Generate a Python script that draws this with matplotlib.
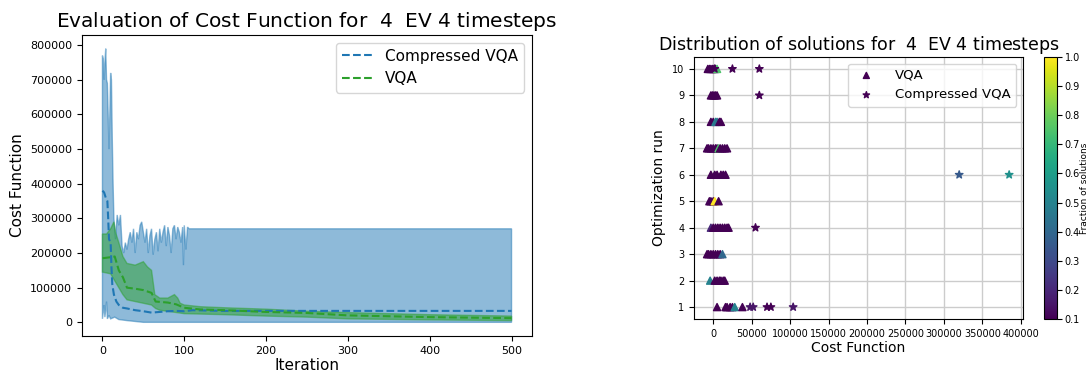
import numpy as np
import matplotlib.pyplot as plt

# ---- cost function traces (iteration -> value) ----
comp_max_it = [0, 1, 2, 3, 4, 5, 6, 7, 8, 9, 10, 11, 12, 13, 14, 16, 18, 20, 22, 24, 26, 28, 30,
               32, 34, 36, 38, 40, 42, 44, 46, 48, 50, 52, 54, 56, 58, 60, 62, 64, 66, 68, 70,
               72, 74, 76, 78, 80, 82, 84, 86, 88, 90, 92, 94, 96, 98, 99, 100, 102, 104, 106, 500]
comp_max = [770000, 760000, 700000, 750000, 790000, 700000, 690000, 600000, 500000, 600000,
            720000, 700000, 530000, 400000, 300000, 240000, 310000, 280000, 310000, 220000,
            200000, 230000, 210000, 240000, 260000, 230000, 270000, 200000, 260000, 240000,
            280000, 290000, 260000, 230000, 270000, 200000, 250000, 270000, 195000, 240000,
            260000, 205000, 270000, 230000, 260000, 280000, 220000, 275000, 250000, 200000,
            270000, 280000, 240000, 275000, 260000, 230000, 275000, 165000, 280000, 210000,
            275000, 270000, 270000]
comp_min_it = [0, 2, 3, 5, 6, 8, 10, 15, 20, 30, 50, 500]
comp_min = [10000, 50000, 15000, 60000, 10000, 20000, 10000, 15000, 8000, 5000, 0, 0]
comp_mean_it = [0, 2, 4, 6, 7, 8, 10, 11, 12, 14, 17, 20, 25, 30, 40, 50, 60, 70, 80, 90,
                100, 110, 150, 500]
comp_mean = [380000, 375000, 360000, 350000, 300000, 240000, 230000, 160000, 110000, 80000,
             60000, 50000, 42000, 40000, 35000, 32000, 28000, 30000, 32000, 33000, 32000,
             35000, 33000, 33000]

vqa_max_it = [0, 5, 10, 14, 16, 20, 25, 30, 40, 50, 55, 60, 64, 70, 80, 88, 92, 95, 100, 120,
              150, 200, 250, 300, 400, 500]
vqa_max = [255000, 255000, 270000, 290000, 260000, 230000, 190000, 170000, 165000, 175000,
           160000, 150000, 80000, 70000, 70000, 80000, 70000, 55000, 50000, 45000, 42000,
           38000, 32000, 28000, 22000, 18000]
vqa_min_it = [0, 10, 15, 20, 25, 30, 40, 50, 60, 65, 70, 100, 150, 200, 250, 300, 400, 500]
vqa_min = [145000, 140000, 120000, 100000, 80000, 65000, 60000, 55000, 50000, 40000, 35000,
           25000, 22000, 18000, 15000, 10000, 7000, 5000]
vqa_mean_it = [0, 10, 15, 20, 25, 30, 40, 50, 60, 65, 80, 90, 100, 120, 150, 200, 250, 300,
               400, 500]
vqa_mean = [185000, 188000, 190000, 150000, 130000, 100000, 97000, 93000, 85000, 60000,
            57000, 52000, 42000, 37000, 35000, 30000, 27000, 20000, 15000, 12000]

# ---- final solutions per optimization run: (run, cost, fraction) ----
tri_run = [10, 10, 10, 10, 10, 10, 10,
           9, 9, 9, 9, 9,
           8, 8, 8, 8, 8, 8,
           7, 7, 7, 7, 7, 7, 7, 7, 7, 7, 7,
           6, 6, 6, 6, 6, 6,
           5, 5, 5, 5, 5,
           4, 4, 4, 4, 4, 4, 4, 4, 4,
           3, 3, 3, 3, 3, 3, 3, 3,
           2, 2, 2, 2, 2, 2, 2,
           1, 1, 1, 1, 1, 1, 1]
tri_cost = [-7000, -5000, -3000, -1000, 1000, 3000, 5000,
            -3000, -1000, 1000, 3000, 5000,
            -3000, 0, 3000, 5000, 8000, 10000,
            -8000, -6000, -3000, 0, 3000, 5000, 7000, 9000, 12000, 15000, 18000,
            -3000, 2000, 5000, 10000, 13000, 16000,
            -5000, -3000, 0, 2000, 7000,
            -3000, 0, 3000, 6000, 9000, 12000, 15000, 18000, 20000,
            -8000, -6000, -3000, 0, 3000, 6000, 9000, 12000,
            -4000, 2000, 5000, 8000, 10000, 13000, 15000,
            5000, 16000, 18000, 22000, 25000, 28000, 38000]
tri_frac = [0.1, 0.1, 0.1, 0.1, 0.1, 0.1, 0.75,
            0.1, 0.1, 0.1, 0.1, 0.1,
            0.1, 0.1, 0.5, 0.45, 0.1, 0.1,
            0.1, 0.1, 0.1, 0.1, 0.1, 0.1, 0.75, 0.1, 0.1, 0.1, 0.1,
            0.1, 0.1, 0.1, 0.1, 0.1, 0.1,
            0.1, 0.1, 0.1, 1.0, 0.1,
            0.2, 0.1, 0.1, 0.1, 0.1, 0.1, 0.1, 0.1, 0.1,
            0.1, 0.1, 0.1, 0.1, 0.1, 0.1, 0.1, 0.4,
            0.5, 0.1, 0.1, 0.1, 0.1, 0.1, 0.1,
            0.1, 0.1, 0.1, 0.1, 0.1, 0.5, 0.1]

star_run = [10, 10, 10, 9, 6, 6, 4, 1, 1, 1, 1, 1]
star_cost = [2000, 25000, 60000, 60000, 320000, 385000, 55000, 48000, 52000, 70000, 75000, 104000]
star_frac = [0.1, 0.1, 0.1, 0.1, 0.35, 0.55, 0.1, 0.15, 0.15, 0.1, 0.1, 0.15]

W, H = 1090, 374
fig = plt.figure(figsize=(W / 100, H / 100), dpi=100)

def box(l, t, r, b):
    return [l / W, 1 - b / H, (r - l) / W, (b - t) / H]

# left: cost function during optimisation, min/max band + mean
ax1 = fig.add_axes(box(82, 35, 532, 336))
ax1.fill(comp_max_it + comp_min_it[::-1], comp_max + comp_min[::-1],
         color='tab:blue', alpha=0.5)
ax1.fill(vqa_max_it + vqa_min_it[::-1], vqa_max + vqa_min[::-1],
         color='tab:green', alpha=0.5)
ax1.plot(comp_mean_it, comp_mean, '--', color='tab:blue', label='Compressed VQA')
ax1.plot(vqa_mean_it, vqa_mean, '--', color='tab:green', label='VQA')
ax1.set_yticks(np.arange(0, 800001, 100000))
ax1.tick_params(labelsize=8)
ax1.set_xlabel('Iteration', fontsize=11, labelpad=2)
ax1.set_ylabel('Cost Function', fontsize=11)
ax1.set_title('Evaluation of Cost Function for  $4$  EV 4 timesteps', fontsize=14.5, pad=6)
ax1.legend(loc='upper right', fontsize=11)

# right: distribution of final solutions
ax2 = fig.add_axes(box(694, 57, 1023, 319))
ax2.grid(True, color='#cccccc', linewidth=1)
ax2.set_axisbelow(True)
sc = ax2.scatter(tri_cost, tri_run, c=tri_frac, cmap='viridis', vmin=0.1, vmax=1.0,
                 marker='^', s=26, label='VQA')
ax2.scatter(star_cost, star_run, c=star_frac, cmap='viridis', vmin=0.1, vmax=1.0,
            marker='*', s=32, label='Compressed VQA')
ax2.set_xlim(-25000, 403000)
ax2.set_yticks(range(1, 11))
ax2.set_xticks(np.arange(0, 400001, 50000))
ax2.tick_params(labelsize=7)
ax2.set_xlabel('Cost Function', fontsize=10, labelpad=2)
ax2.set_ylabel('Optimization run', fontsize=10)
ax2.set_title('Distribution of solutions for  $4$  EV 4 timesteps', fontsize=12.5, pad=5)
ax2.legend(loc='upper right', fontsize=9.5, handletextpad=1.2, markerscale=0.85)

cax = fig.add_axes(box(1044, 57, 1057, 319))
cb = fig.colorbar(sc, cax=cax, ticks=np.arange(0.1, 1.01, 0.1))
cb.ax.tick_params(labelsize=7, pad=2)
cb.set_label('Fraction of solutions', fontsize=6.5, labelpad=0)

fig.savefig('out.png', dpi=100)
